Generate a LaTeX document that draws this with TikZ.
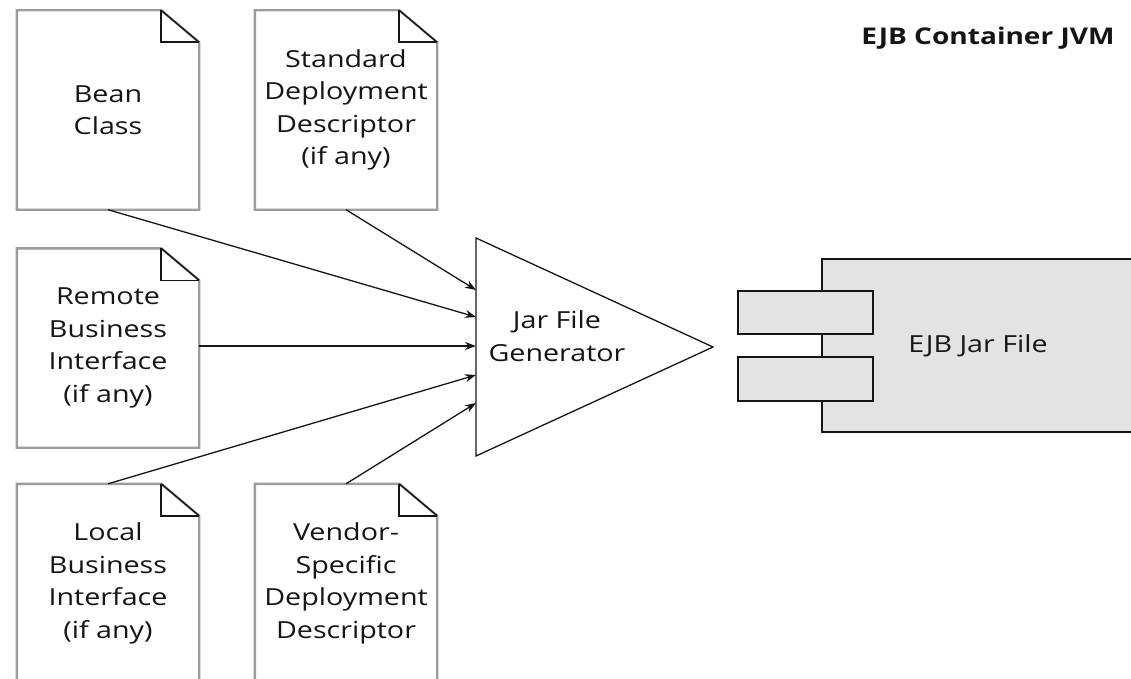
\documentclass[tikz,border=0pt]{standalone}
\usepackage{fontspec}
\setmainfont{Open Sans}[FakeStretch=1.22]
\usetikzlibrary{arrows.meta}
\definecolor{docgray}{HTML}{9C9C9C}
\definecolor{jarfill}{HTML}{E3E3E3}
\definecolor{ink}{HTML}{151515}
\tikzset{
  doc/.style={rectangle, inner sep=0pt, minimum width=182, minimum height=199,
    align=center, text=ink, font=\fontsize{23.5}{32.5}\selectfont},
  docedge/.style={draw=docgray, line width=2.4pt, line join=miter},
  foldline/.style={draw=ink, line width=1.6pt},
  flow/.style={draw=ink, line width=1.3pt, -{Stealth[length=11pt,width=8pt]}},
  genshape/.style={draw=ink, line width=1.3pt, fill=white},
  jarbox/.style={draw=ink, line width=1.8pt, fill=jarfill},
  lbl/.style={text=ink, font=\fontsize{23.5}{32.5}\selectfont, align=center}
}
\begin{document}
\begin{tikzpicture}[x=1pt, y=-1pt]
\useasboundingbox (0,0) rectangle (1131,679);
\fill[white] (0,0) rectangle (1131,679);

% documents
\node[doc] (bean) at (108,110) {Bean\\Class};
\node[doc] (std) at (346,110) {Standard\\Deployment\\Descriptor\\(if any)};
\node[doc] (remote) at (108,348) {Remote\\Business\\Interface\\(if any)};
\node[doc] (local) at (108,583.5) {Local\\Business\\Interface\\(if any)};
\node[doc] (vendor) at (346,583.5) {Vendor-\\Specific\\Deployment\\Descriptor};

\foreach \n in {bean,std,remote,local,vendor}{
  \draw[docedge] (\n.north west) -- ([xshift=-38pt]\n.north east)
    -- ([yshift=-32pt]\n.north east) -- (\n.south east) -- (\n.south west) -- cycle;
  \draw[foldline] ([xshift=-38pt]\n.north east) -- ([xshift=-38pt,yshift=-32pt]\n.north east)
    -- ([yshift=-32pt]\n.north east);
  \draw[draw=ink, line width=1.4pt] ([xshift=-38pt]\n.north east) -- ([yshift=-32pt]\n.north east);
}

% generator triangle
\coordinate (gtop) at (476,238);
\coordinate (gbot) at (476,456);
\coordinate (gapex) at (713,347);
\draw[genshape] (gtop) -- (gapex) -- (gbot) -- cycle;
\node[lbl] (gen) at (557,336) {Jar File\\Generator};
\coordinate (t1) at (476,290);
\coordinate (t2) at (476,317);
\coordinate (t3) at (476,346);
\coordinate (t4) at (476,375);
\coordinate (t5) at (476,403);

\draw[flow] (std.south) -- (t1);
\draw[flow] (bean.south) -- (t2);
\draw[flow] (remote.east |- t3) -- (t3);
\draw[flow] (local.north) -- (t4);
\draw[flow] (vendor.north) -- (t5);

% jar file component
\draw[jarbox] (822,259) rectangle (1145,432);
\draw[jarbox] (738,291) rectangle (873,334);
\draw[jarbox] (738,357) rectangle (873,401);
\node[lbl] (jar) at (978,346) {EJB Jar File};

% title
\node[text=ink, font=\bfseries\fontsize{23}{26}\selectfont] (title) at (988,38) {EJB Container JVM};
\end{tikzpicture}
\end{document}
